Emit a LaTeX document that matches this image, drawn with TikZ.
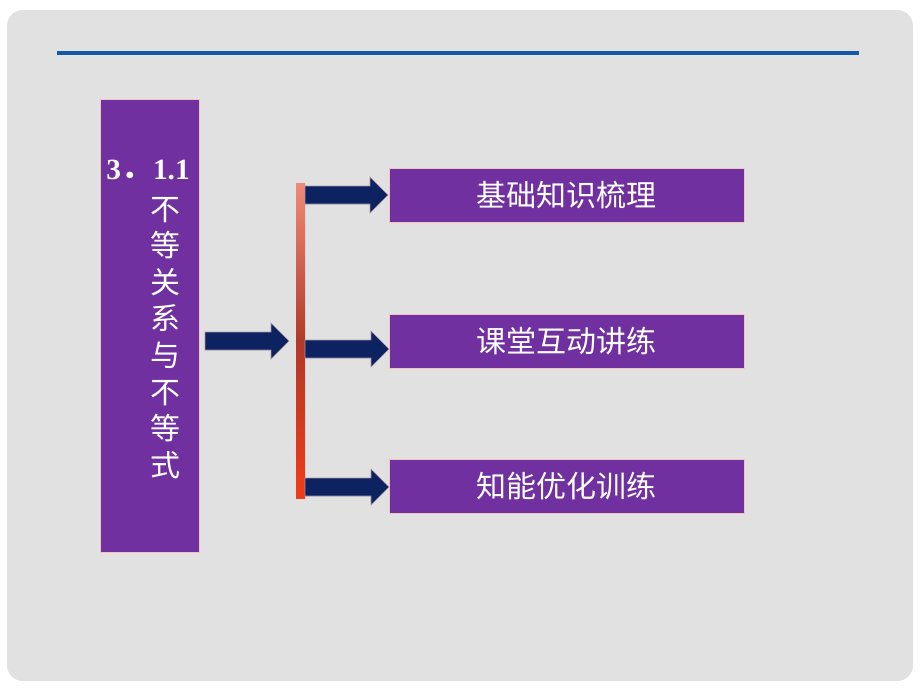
\documentclass[tikz,border=0pt]{standalone}
\usepackage{fontspec}
\setmainfont{Liberation Serif}
\newfontfamily\cjk{Noto Sans CJK SC}
\usetikzlibrary{calc}
\definecolor{bg}{HTML}{E1E1E1}
\definecolor{pur}{HTML}{7030A0}
\definecolor{navy}{HTML}{0D2260}
\definecolor{rule}{HTML}{1558A8}
\definecolor{edge}{HTML}{F2C4C0}
\definecolor{bartop}{HTML}{F08A78}
\definecolor{barmid}{HTML}{B03A28}
\definecolor{barbot}{HTML}{F03C18}
\tikzset{
  pbox/.style={fill=pur,draw=edge,line width=0.6pt},
  fatarrow/.style={fill=navy,draw=edge!70!navy,line width=0.4pt},
  btext/.style={text=white,font=\cjk\fontsize{22.5}{26}\selectfont}
}
\newcommand{\fatarr}[2]{%
  \path[fatarrow] let \p1=(#1), \p2=(#2) in
    (\x1,\y1+6.75pt) -- (\x2-13.5pt,\y1+6.75pt) -- (\x2-13.5pt,\y1+13.5pt) --
    (\x2,\y1) -- (\x2-13.5pt,\y1-13.5pt) -- (\x2-13.5pt,\y1-6.75pt) --
    (\x1,\y1-6.75pt) -- cycle;}
\begin{document}
\begin{tikzpicture}[x=0.75pt,y=-0.75pt]
\useasboundingbox (0,0) rectangle (920,690);
\fill[white] (0,0) rectangle (920,690);
\fill[bg,rounded corners=12pt] (7,10) rectangle (913,681);
\draw[rule,line width=3pt] (57,53) -- (859,53);
% left box
\node[pbox,minimum width=99*0.75pt,minimum height=453*0.75pt,inner sep=0pt] (L) at (149.5,325.5) {};
\node[text=white,font=\bfseries\fontsize{22}{24}\selectfont,anchor=base,inner sep=0pt] (Lnum) at (148,179) {3{\cjk ．}\kern2pt1.1};
\node[text=white,font=\cjk\fontsize{22.5}{27.4}\selectfont,align=center,anchor=north,inner sep=0pt] (Ltxt) at (165,197)
  {不\\等\\关\\系\\与\\不\\等\\式};
% bar
\shade[top color=bartop,bottom color=barbot,middle color=barmid] (296,183) rectangle (305,498);
\coordinate (Btop) at (300.5,183);
\coordinate (Bbot) at (300.5,498);
% right boxes
\node[pbox,minimum width=355*0.75pt,minimum height=54*0.75pt,inner sep=0pt] (A1) at (566.5,195) {};
\node[btext] at (A1) {基础知识梳理};
\node[pbox,minimum width=355*0.75pt,minimum height=54*0.75pt,inner sep=0pt] (A2) at (566.5,341) {};
\node[btext] at (A2) {课堂互动讲练};
\node[pbox,minimum width=355*0.75pt,minimum height=54*0.75pt,inner sep=0pt] (A3) at (566.5,486) {};
\node[btext] at (A3) {知能优化训练};
% arrows
\coordinate (m0) at (205,341); \coordinate (m1) at (289,341);
\fatarr{m0}{m1}
\coordinate (a0) at (305,195); \coordinate (a1) at (388,195);
\fatarr{a0}{a1}
\coordinate (b0) at (305,349); \coordinate (b1) at (389,349);
\fatarr{b0}{b1}
\coordinate (c0) at (305,487); \coordinate (c1) at (389,487);
\fatarr{c0}{c1}
\end{tikzpicture}
\end{document}
